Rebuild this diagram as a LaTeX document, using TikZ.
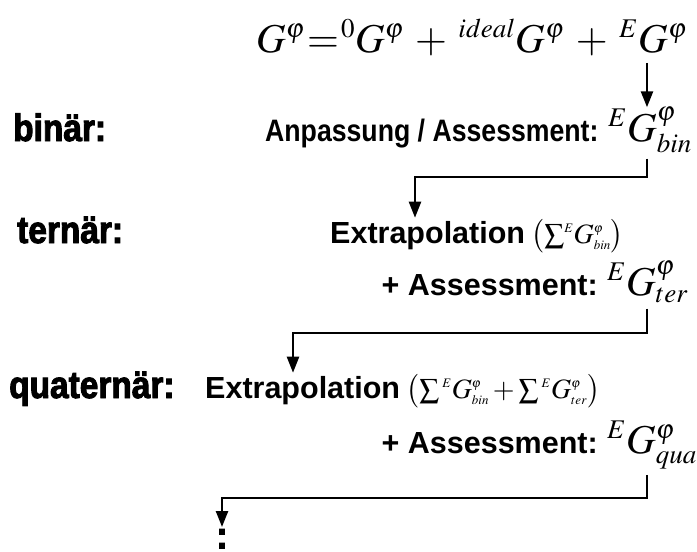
\documentclass[tikz,border=0pt]{standalone}
\usepackage{mathptmx}
\usepackage[no-math]{fontspec}
\newfontfamily\txtfont{Liberation Sans}
\newfontfamily\txtfontN[FakeStretch=0.86]{Liberation Sans}
\newfontfamily\lblfontfam[FakeStretch=0.88,FakeBold=2.5]{Liberation Sans}
\DeclareMathSizes{41}{41}{27}{18}
\DeclareMathSizes{28}{28}{13}{9}
\usetikzlibrary{arrows.meta}
\begin{document}
\begin{tikzpicture}[x=1pt,y=-1pt,
  lbl/.style={anchor=base west,inner sep=0pt,font=\fontsize{38}{42}\lblfontfam\bfseries},
  txt/.style={anchor=base west,inner sep=0pt,font=\fontsize{30.5}{35}\txtfont\bfseries},
  txtn/.style={anchor=base west,inner sep=0pt,font=\fontsize{31}{35}\txtfontN\bfseries},
  bigmath/.style={anchor=base west,inner sep=0pt,font=\fontsize{41}{46}\selectfont},
  summath/.style={anchor=base west,inner sep=0pt,font=\fontsize{28}{32}\selectfont},
  conn/.style={line width=2.4pt},
  arr/.style={conn,-{Triangle[length=16pt,width=12pt]}}]
\useasboundingbox (0,0) rectangle (697,552);
\coordinate (col) at (647,0);
% equation
\node[bigmath] (eq) at (256,52) {$\thickmuskip=1mu\medmuskip=5mu G^{\varphi}={}^{0}G^{\varphi}+{}^{ideal}G^{\varphi}+{}^{E}$};
\node[bigmath] (Gtop) at (eq.base east) {$G^{\varphi}$};
% binaer
\node[lbl] (bin) at (13,141) {binär:};
\node[txtn] (anp) at (265,141) {Anpassung / Assessment:};
\node[bigmath] (Gbin) at (608,141) {${}^{E}G^{\varphi}_{bin}$};
% ternaer
\node[lbl] (ter) at (17,243) {ternär:};
\node[txt] (ex1) at (330,243) {Extrapolation};
\node[summath] (s1) at ([xshift=6pt]ex1.base east) {$\bigl(\sum\!{}^{E}G^{\varphi}_{bin}\bigr)$};
\node[txt,anchor=base east] (as1) at (598,295) {+ Assessment:};
\node[bigmath] (Gter) at (607,295) {${}^{E}G^{\varphi}_{ter}$};
% quaternaer
\node[lbl] (quat) at (9,398) {quaternär:};
\node[txt] (ex2) at (205,398) {Extrapolation};
\node[summath] (s2) at ([xshift=6pt]ex2.base east) {$\bigl(\sum{}^{E}G^{\varphi}_{bin}+\sum{}^{E}G^{\varphi}_{ter}\bigr)$};
\node[txt,anchor=base east] (as2) at (598,453) {+ Assessment:};
\node[bigmath] (Gquar) at (607,453) {${}^{E}G^{\varphi}_{quar}$};
\node[lbl,anchor=north] (dots) at (222,529) {:};
% connectors
\coordinate (h2) at (415,177);
\coordinate (h3) at (293,333);
\coordinate (h4) at (222,498);
\draw[arr,shorten <=10pt] (Gtop.south -| col) -- (Gbin.north -| col);
\draw[arr,shorten <=6pt,shorten >=3pt] (Gbin.south -| col) |- (h2) -- (h2 |- ex1.north);
\draw[arr,shorten <=6pt,shorten >=3pt] (Gter.south -| col) |- (h3) -- (h3 |- ex2.north);
\draw[arr,shorten <=6pt,shorten >=2pt] (Gquar.south -| col) |- (h4) -- (h4 |- dots.north);
\end{tikzpicture}
\end{document}
